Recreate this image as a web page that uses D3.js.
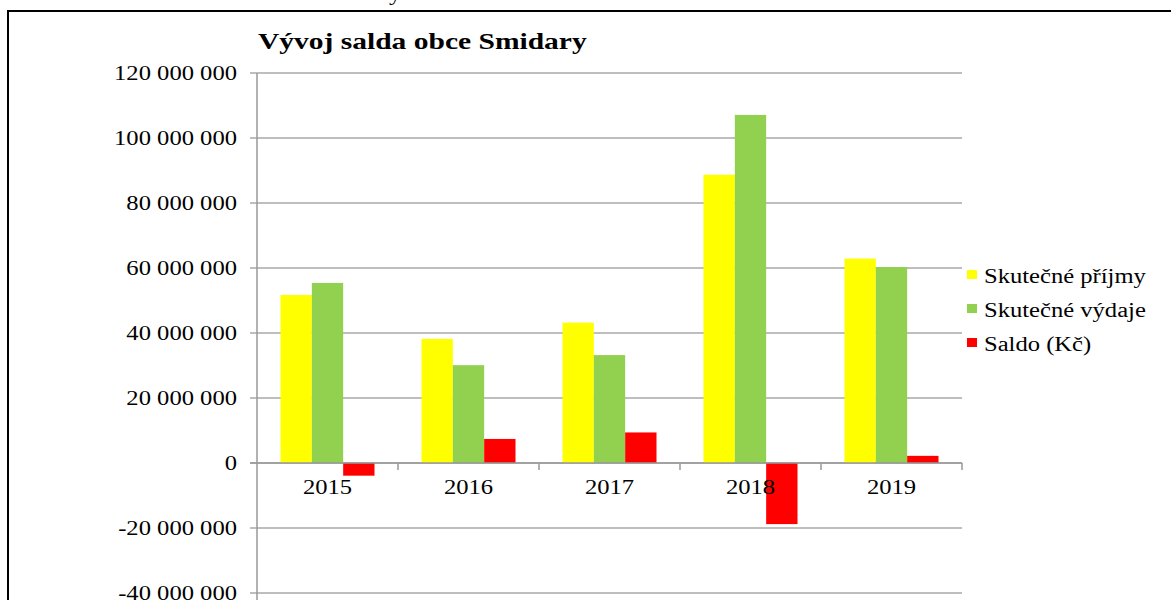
<!DOCTYPE html>
<html>
<head>
<meta charset="utf-8">
<script src="https://cdn.jsdelivr.net/npm/d3@7"></script>
<style>
  body { margin: 0; background: #fff; }
  svg { display: block; }
  text { font-family: "Liberation Serif", "Times New Roman", serif; fill: #000; }
</style>
</head>
<body>
<svg id="chart" width="1171" height="600"></svg>
<script>
// data
var years = ["2015", "2016", "2017", "2018", "2019"];
var series = ["Skutečné příjmy", "Skutečné výdaje", "Saldo (Kč)"];
var prijmy = [51700000, 38200000, 43200000, 88700000, 62900000];
var vydaje = [55400000, 30100000, 33200000, 107100000, 60300000];
var saldo = [-3900000, 7400000, 9400000, -18800000, 2200000];
var yTicks = [-40000000, -20000000, 0, 20000000, 40000000, 60000000, 80000000, 100000000, 120000000];
var colors = ["#ffff00", "#92d050", "#ff0000"];

var values = [prijmy, vydaje, saldo];
var sx = 1.23; // the source picture is a bit wide

var svg = d3.select("#chart");

var x0 = d3.scaleBand().domain(years).range([257, 962]).padding(0);
var x1 = d3.scaleBand().domain(series).range([0, x0.bandwidth()]).paddingInner(0).paddingOuter(0.75);
var y = d3.scaleLinear().domain([-40000000, 120000000]).range([593, 73]);

var fmt = function(v)
{
	var s = d3.format(",")(Math.abs(v)).replace(/,/g, " ");
	return (v < 0 ? "-" : "") + s;
}

var wideText = function(sel, x, yy)
{
	return sel.attr("transform", "translate(" + x + "," + yy + ") scale(" + sx + ",1)");
}

// fragment of document text above the frame
wideText(svg.append("text"), 389, 0).style("font-size", "20px").text("y");

// frame
svg.append("path")
	.attr("d", "M8,600 L8,11 L1171,11")
	.attr("fill", "none")
	.attr("stroke", "#000")
	.attr("stroke-width", 2);

// title
wideText(svg.append("text"), 258, 49)
	.style("font-size", "24px")
	.style("font-weight", "bold")
	.text("Vývoj salda obce Smidary");

// gridlines + y ticks
var grid = svg.append("g");
yTicks.forEach(function(t)
{
	grid.append("line")
		.attr("x1", 250).attr("x2", 962)
		.attr("y1", y(t)).attr("y2", y(t))
		.attr("stroke", "#a8a8a8")
		.attr("stroke-width", 1.5);
	wideText(grid.append("text"), 237, y(t) + 7)
		.attr("text-anchor", "end")
		.style("font-size", "20px")
		.text(fmt(t));
});

// vertical axis
svg.append("line")
	.attr("x1", 257).attr("x2", 257)
	.attr("y1", y(120000000)).attr("y2", 600)
	.attr("stroke", "#999")
	.attr("stroke-width", 1.5);

// bars
var groups = svg.selectAll(".year")
	.data(years)
	.enter().append("g")
	.attr("class", "year")
	.attr("transform", function(d) { return "translate(" + x0(d) + ",0)"; });

groups.selectAll("rect")
	.data(function(d, i) { return series.map(function(s, k) { return {key: s, value: values[k][i], k: k}; }); })
	.enter().append("rect")
	.attr("x", function(d) { return x1(d.key); })
	.attr("width", x1.bandwidth())
	.attr("y", function(d) { return y(Math.max(0, d.value)); })
	.attr("height", function(d) { return Math.abs(y(d.value) - y(0)); })
	.attr("fill", function(d) { return colors[d.k]; });

// zero axis with category ticks
svg.append("line")
	.attr("x1", 250).attr("x2", 962)
	.attr("y1", y(0)).attr("y2", y(0))
	.attr("stroke", "#999")
	.attr("stroke-width", 1.5);
years.forEach(function(d)
{
	svg.append("line")
		.attr("x1", x0(d) + x0.bandwidth()).attr("x2", x0(d) + x0.bandwidth())
		.attr("y1", y(0)).attr("y2", y(0) + 7)
		.attr("stroke", "#999")
		.attr("stroke-width", 1.5);
	wideText(svg.append("text"), x0(d) + x0.bandwidth() / 2, 494)
		.attr("text-anchor", "middle")
		.style("font-size", "20px")
		.text(d);
});

// legend
var legend = svg.append("g").attr("transform", "translate(967,266)");
series.forEach(function(s, k)
{
	legend.append("rect")
		.attr("x", 0).attr("y", k * 34 + 4)
		.attr("width", 10).attr("height", 9)
		.attr("fill", colors[k]);
	wideText(legend.append("text"), 17, k * 34 + 17)
		.style("font-size", "20px")
		.text(s);
});
</script>
</body>
</html>
